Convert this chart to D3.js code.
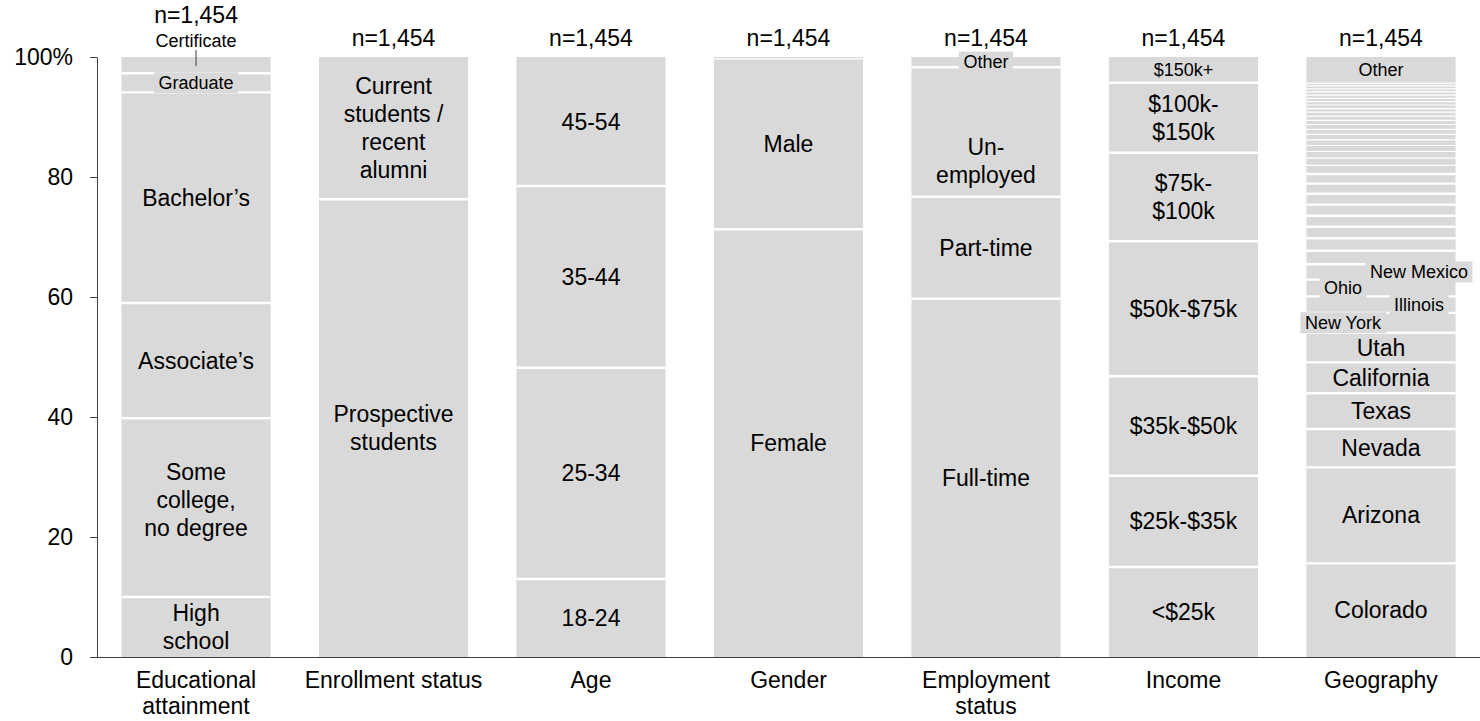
<!DOCTYPE html>
<html><head><meta charset="utf-8">
<script src="https://cdn.jsdelivr.net/npm/d3@7"></script>
<style>
html,body{margin:0;padding:0;background:#fff;}
svg{display:block;}
text{font-family:"Liberation Sans",Arial,Helvetica,sans-serif;fill:#000;}
</style>
</head><body>
<svg id="chart" width="1480" height="721"></svg>
<script>
// ---------------- DATA ----------------
const categories = ["Educational attainment","Enrollment status","Age","Gender","Employment status","Income","Geography"];
const categoryLabels = [["Educational","attainment"],["Enrollment status"],["Age"],["Gender"],["Employment","status"],["Income"],["Geography"]];
const sampleSizes = ["n=1,454","n=1,454","n=1,454","n=1,454","n=1,454","n=1,454","n=1,454"];
const yTicks = [0,20,40,60,80,100];
const yTickLabels = ["0","20","40","60","80","100%"];

const eduNames  = ["High school","Some college, no degree","Associate’s","Bachelor’s","Graduate","Certificate"];
const eduValues = [10.0, 29.8, 19.2, 35.1, 3.2, 2.7];
const eduLabels = [["High","school"],["Some","college,","no degree"],["Associate’s"],["Bachelor’s"],["Graduate"],["Certificate"]];

const enrollNames  = ["Prospective students","Current students / recent alumni"];
const enrollValues = [76.3, 23.7];
const enrollLabels = [["Prospective","students"],["Current","students /","recent","alumni"]];

const ageNames  = ["18-24","25-34","35-44","45-54"];
const ageValues = [13.0, 35.2, 30.3, 21.5];
const ageLabels = [["18-24"],["25-34"],["35-44"],["45-54"]];

const genderNames  = ["Female","Male","Other"];
const genderValues = [71.3, 28.4, 0.3];
const genderLabels = [["Female"],["Male"],[]];

const employNames  = ["Full-time","Part-time","Unemployed","Other"];
const employValues = [59.7, 17.0, 21.6, 1.7];
const employLabels = [["Full-time"],["Part-time"],["Un-","employed"],["Other"]];

const incomeNames  = ["<$25k","$25k-$35k","$35k-$50k","$50k-$75k","$75k-$100k","$100k-$150k","$150k+"];
const incomeValues = [15.0, 15.2, 16.6, 22.5, 14.75, 11.65, 4.3];
const incomeLabels = [["<$25k"],["$25k-$35k"],["$35k-$50k"],["$50k-$75k"],["$75k-","$100k"],["$100k-","$150k"],["$150k+"]];

const geoNames  = ["Colorado","Arizona","Nevada","Texas","California","Utah","New York","Illinois","Ohio","New Mexico",
  "State 11","State 12","State 13","State 14","State 15","State 16","State 17","State 18","State 19","State 20",
  "State 21","State 22","State 23","State 24","State 25","State 26","State 27","State 28","State 29","State 30",
  "State 31","State 32","State 33","State 34","State 35","State 36","State 37","State 38","Other"];
const geoValues = [15.6, 16.0, 6.4, 5.95, 5.15, 4.95, 3.3, 2.75, 2.8, 2.55,
  2.25, 2.1, 1.9, 1.85, 1.85, 1.8, 1.7, 1.6, 1.45, 1.2,
  1.1, 1.0, 0.95, 0.9, 0.85, 0.8, 0.7, 0.7, 0.65, 0.6,
  0.6, 0.55, 0.55, 0.55, 0.55, 0.5, 0.5, 0.45, 4.35];
const geoLabels = [["Colorado"],["Arizona"],["Nevada"],["Texas"],["California"],["Utah"],["New York"],["Illinois"],["Ohio"],["New Mexico"],
  [],[],[],[],[],[],[],[],[],[],[],[],[],[],[],[],[],[],[],[],[],[],[],[],[],[],[],[],["Other"]];

// ---------------- STYLES (kept apart from data) ----------------
const labelStyles = {
  "Educational attainment|Certificate": {small:true, outside:true},
  "Educational attainment|Graduate": {small:true, box:true},
  "Educational attainment|Some college, no degree": {dy:-8},
  "Employment status|Unemployed": {dy:29},
  "Employment status|Other": {small:true, box:true},
  "Income|$150k+": {small:true},
  "Geography|Other": {small:true},
  "Geography|New York": {small:true, box:true, dx:-38},
  "Geography|Ohio": {small:true, box:true, dx:-38},
  "Geography|Illinois": {small:true, box:true, dx:38},
  "Geography|New Mexico": {small:true, box:true, dx:38}
};
const nLabelShift = {"Educational attainment": -23};
const BIG = 23, SMALL = 18, LINE_H = 28;
const BAR_FILL = "#d9d9d9", AXIS_COL = "#404040";

// ---------------- BUILD ----------------
const seriesList = [
  {names:eduNames, values:eduValues, labels:eduLabels},
  {names:enrollNames, values:enrollValues, labels:enrollLabels},
  {names:ageNames, values:ageValues, labels:ageLabels},
  {names:genderNames, values:genderValues, labels:genderLabels},
  {names:employNames, values:employValues, labels:employLabels},
  {names:incomeNames, values:incomeValues, labels:incomeLabels},
  {names:geoNames, values:geoValues, labels:geoLabels}
];

const svg = d3.select("#chart");
const x = d3.scaleBand().domain(categories).range([97, 1480]).paddingInner(0.245).paddingOuter(0.124);
const y = d3.scaleLinear().domain([0, 100]).range([657, 57]);

const segs = [];
seriesList.forEach((s, i) => {
  let cum = 0;
  s.values.forEach((v, j) => {
    const next = s.values[j + 1];
    segs.push({cat: categories[i], name: s.names[j], label: s.labels[j], y0: cum, y1: cum + v,
      last: j === s.values.length - 1, minAdj: Math.min(v, next === undefined ? v : next)});
    cum += v;
  });
});

const bw = x.bandwidth();

// bars
svg.append("g").selectAll("rect").data(segs).join("rect")
  .attr("x", d => x(d.cat)).attr("width", bw)
  .attr("y", d => y(d.y1)).attr("height", d => y(d.y0) - y(d.y1))
  .attr("fill", BAR_FILL);

// white separators
svg.append("g").selectAll("line").data(segs.filter(d => !d.last)).join("line")
  .attr("x1", d => x(d.cat)).attr("x2", d => x(d.cat) + bw)
  .attr("y1", d => y(d.y1)).attr("y2", d => y(d.y1))
  .attr("stroke", "#fff").attr("stroke-width", d => (y(0) - y(d.minAdj)) > 8 ? 2.4 : 1.2);

// axes
const yAxis = d3.axisLeft(y).tickValues(yTicks).tickFormat((d, i) => yTickLabels[i]).tickSize(7).tickSizeOuter(0).tickPadding(17);
const gy = svg.append("g").attr("transform", "translate(97,0)").call(yAxis);
gy.selectAll("path,line").attr("stroke", AXIS_COL);
gy.selectAll("text").attr("font-size", BIG).attr("font-family", "Liberation Sans, Arial, sans-serif").attr("fill", "#000");

const xAxis = d3.axisBottom(x).tickSize(0).tickFormat("");
const gx = svg.append("g").attr("transform", "translate(0,657)").call(xAxis);
gx.select(".domain").attr("d", "M90,0.5H1480").attr("stroke", AXIS_COL);

// category labels
categories.forEach((c, i) => {
  const t = svg.append("text").attr("text-anchor", "middle").attr("font-size", BIG);
  categoryLabels[i].forEach((ln, k) => {
    t.append("tspan").attr("x", x(c) + bw / 2).attr("y", 680 + k * 26).attr("dy", "0.35em").text(ln);
  });
});

// n labels
categories.forEach((c, i) => {
  svg.append("text").attr("text-anchor", "middle").attr("font-size", BIG)
    .attr("x", x(c) + bw / 2).attr("y", 38 + (nLabelShift[c] || 0)).attr("dy", "0.35em").text(sampleSizes[i]);
});

// segment labels
const lg = svg.append("g");
segs.filter(d => d.label && d.label.length).forEach(d => {
  const st = labelStyles[d.cat + "|" + d.name] || {};
  const fs = st.small ? SMALL : BIG;
  const cx = x(d.cat) + bw / 2 + (st.dx || 0);
  let cy = (y(d.y0) + y(d.y1)) / 2 + (st.dy || 0);
  const g = lg.append("g");
  if (st.outside) {
    cy = 41;
    g.append("line").attr("x1", cx).attr("x2", cx).attr("y1", 50).attr("y2", (y(d.y0) + y(d.y1)) / 2 + 1)
      .attr("stroke", AXIS_COL).attr("stroke-width", 1);
  }
  const rect = st.box ? g.append("rect").attr("fill", BAR_FILL) : null;
  const t = g.append("text").attr("text-anchor", "middle").attr("font-size", fs);
  const n = d.label.length;
  const lh = st.small ? fs * 1.2 : LINE_H;
  d.label.forEach((ln, k) => {
    t.append("tspan").attr("x", cx).attr("y", cy + (k - (n - 1) / 2) * lh).attr("dy", "0.35em").text(ln);
  });
  if (rect) {
    const bb = t.node().getBBox();
    rect.attr("x", bb.x - 4.5).attr("width", bb.width + 9).attr("y", cy - 10.5).attr("height", 21);
  }
});
</script>
</body></html>
